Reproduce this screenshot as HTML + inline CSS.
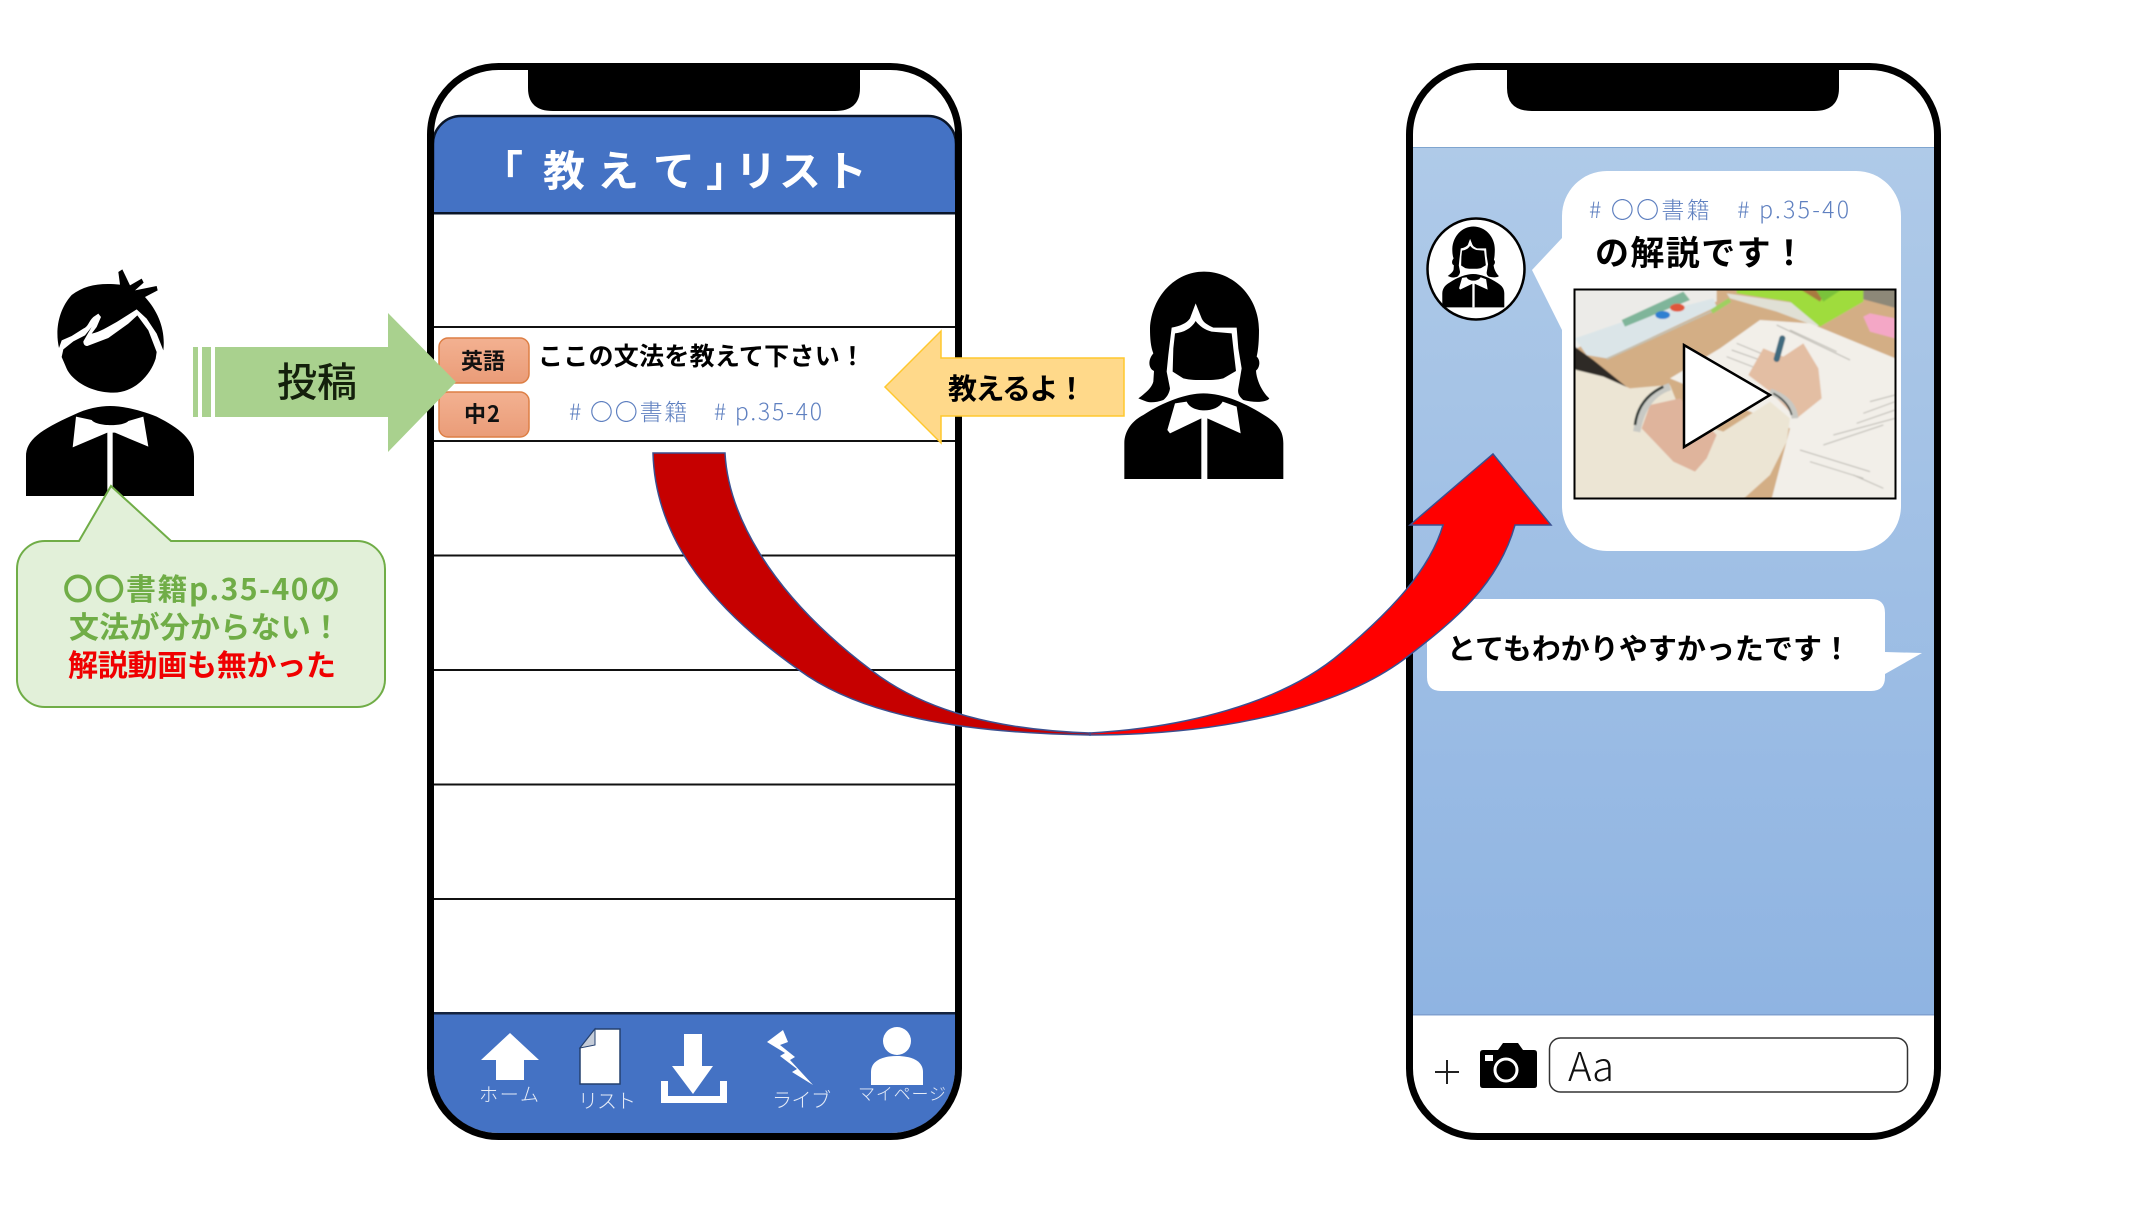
<!DOCTYPE html>
<html lang="ja"><head><meta charset="utf-8"><title>教えてリスト</title>
<style>html,body{margin:0;padding:0;background:#fff}svg{display:block}
text{font-family:"Liberation Sans","Noto Sans CJK JP",sans-serif}
.j{font-family:"Noto Sans CJK JP","Liberation Sans",sans-serif}
</style></head><body>
<svg xmlns="http://www.w3.org/2000/svg" width="2129" height="1207" viewBox="0 0 2129 1207">
<defs>
<linearGradient id="sky" x1="0" y1="0" x2="0" y2="1"><stop offset="0" stop-color="#afcae8"/><stop offset="1" stop-color="#8fb4e2"/></linearGradient>
<linearGradient id="tag" x1="0" y1="0" x2="0" y2="1"><stop offset="0" stop-color="#f3b191"/><stop offset="1" stop-color="#ea9c78"/></linearGradient>
<clipPath id="p1"><rect x="434" y="70" width="521" height="1063" rx="64"/></clipPath>
<clipPath id="p2"><rect x="1413" y="70" width="521" height="1063" rx="64"/></clipPath>
<clipPath id="ph"><rect x="12" y="12" width="966" height="628"/></clipPath>
<filter id="bl" x="-5%" y="-5%" width="110%" height="110%"><feGaussianBlur stdDeviation="2.2"/></filter>
<g id="woman">
<path d="M972 35C1060 35 1137 110 1137 210C1137 240 1135 270 1130 290C1142 300 1140 322 1128 332C1130 365 1150 400 1168 415C1160 428 1120 428 1090 420C1078 410 1072 400 1075 385L1085 325L1075 265L1070 203L1000 203C985 195 972 190 965 175L947 130L930 175C920 190 900 198 875 203L865 285L860 335L870 385C868 400 860 412 850 420C830 428 810 428 800 425L775 415C795 400 815 385 820 365L822 333C805 325 803 300 820 280C812 260 810 235 810 205C815 110 885 35 972 35Z"/>
<path d="M947 183C935 205 910 218 885 220L880 265L878 335L910 355C930 360 950 360 970 360C990 360 1010 360 1030 355L1068 333L1060 265L1055 220L995 215C975 210 958 198 947 183Z"/>
<path d="M733 657L733 550C733 510 760 480 790 465C850 425 920 400 970 400C1030 400 1100 430 1160 470C1190 490 1210 510 1210 550L1210 657Z"/>
<path fill="#fff" d="M885 430L920 425C935 460 1010 460 1028 425L1070 440L1082 520L982 475L982 657L964 657L964 475L870 520L862 510Z"/>
</g>
</defs>

<rect width="2129" height="1207" fill="#fff"/>

<!-- man -->
<g transform="translate(0,240) scale(.33333)">
<path d="M177 324C165 270 175 210 215 165C255 135 300 128 360 134L355 96L367 88L390 136L425 116L431 128L405 151L470 138L473 151L435 171C475 215 497 270 490 331L470 281L440 236L410 208L350 246C320 262 300 276 275 281L290 261L303 231L295 221L280 231C265 245 265 260 250 266L215 288L185 301Z"/>
<path d="M185 351L190 328L220 304L255 286L275 261L250 304C250 316 258 318 262 318L325 294L385 251L412 226L445 271L470 336L467 356C450 410 400 458 340 458C270 458 215 420 200 386Z"/>
<path d="M78 768L78 650C78 600 120 570 220 525C260 505 300 498 330 498C370 498 420 510 470 530C540 565 582 600 582 650L582 768Z"/>
<path fill="#fff" d="M228 530L275 540C290 560 370 560 385 543L430 530L445 620L345 578L338 578L338 768L322 768L322 578L218 622Z"/>
</g>

<!-- left phone -->
<g clip-path="url(#p1)">
<rect x="434" y="70" width="521" height="1063" fill="#fff"/>
<rect x="433" y="116" width="523" height="120" rx="28" fill="#4472c4" stroke="#0a1528" stroke-width="2.5"/>
<rect x="434" y="180" width="521" height="32" fill="#4472c4"/>
<rect x="434" y="212" width="521" height="2.500" fill="#0a1528"/>
<rect x="434" y="214.500" width="521" height="40" fill="#fff"/>
<g fill="#111"><rect x="434" y="326" width="521" height="2"/><rect x="434" y="440" width="521" height="2"/><rect x="434" y="554.500" width="521" height="2"/><rect x="434" y="669" width="521" height="2"/><rect x="434" y="783.500" width="521" height="2"/><rect x="434" y="898" width="521" height="2"/></g>
<rect x="434" y="1013" width="521" height="126" fill="#4472c4"/>
<rect x="434" y="1012" width="521" height="2.500" fill="#14233f"/>
</g>
<rect x="430.500" y="66.500" width="528" height="1070" rx="68" fill="none" stroke="#000" stroke-width="7"/>
<path d="M528 64H860V88Q860 111 835 111H553Q528 111 528 88Z"/>
<text class="j" font-size="42" font-weight="700" fill="#fff" x="481 543 597 653 706 735 779 825" y="186">「教えて」リスト</text>

<!-- row content -->
<rect x="439" y="338" width="90" height="45" rx="9" fill="url(#tag)" stroke="#dd7f45" stroke-width="1.500"/>
<rect x="439" y="392" width="90" height="45" rx="9" fill="url(#tag)" stroke="#dd7f45" stroke-width="1.500"/>
<text class="j" x="461" y="369" font-size="22" font-weight="700" fill="#111" textLength="44">英語</text>
<text class="j" x="464" y="422" font-size="22" font-weight="700" fill="#111" textLength="36">中2</text>
<text class="j" x="538" y="365" font-size="25" font-weight="700" fill="#000" textLength="327">ここの文法を教えて下さい！</text>
<text class="j" x="569" y="420" font-size="23" fill="#5f80c0" font-weight="300" textLength="253">#&#160;〇〇書籍　#&#160;p.35-40</text>

<!-- footer icons -->
<g fill="#fff" transform="translate(-1,-4)">
<path d="M482 1064L511 1037L540 1064L525 1064L525 1084L497 1084L497 1064Z"/>
<path d="M596 1033L621 1033L621 1088L581 1088L581 1052Z" stroke="#24406f" stroke-width="1.500"/>
<path d="M596 1033L581 1052L596 1049Z" fill="#c5ccd8" stroke="#24406f" stroke-width="1"/>
<path d="M685 1038H703V1070H714L694 1098L673 1070H685Z"/>
<path d="M662 1085H669V1100H721V1085H728V1107H662Z"/>
<path d="M784 1034L768 1046L786 1057L781 1060L798 1073L793 1076L814 1089L791 1064L796 1061L781 1049L789 1046Z"/>
<circle cx="898" cy="1045" r="14"/>
<path d="M872 1089V1076C872 1064 885 1060 898 1060C911 1060 924 1064 924 1076V1089Z"/>
</g>
<g fill="#e6ecf7" font-weight="300" class="j">
<text class="j" x="479" y="1101" font-size="19" textLength="60">ホーム</text>
<text class="j" x="578" y="1108" font-size="20" textLength="58">リスト</text>
<text class="j" x="772" y="1107" font-size="20" textLength="59">ライブ</text>
<text class="j" x="858" y="1100" font-size="17" textLength="88">マイページ</text>
</g>

<!-- right phone -->
<g clip-path="url(#p2)">
<rect x="1413" y="70" width="521" height="1063" fill="#fff"/>
<rect x="1413" y="147" width="521" height="867" fill="url(#sky)"/>
<rect x="1413" y="147" width="521" height="1" fill="#7fa5cf"/>
<rect x="1413" y="1014" width="521" height="1.500" fill="#7fa0d0"/>
</g>
<rect x="1409.500" y="66.500" width="528" height="1070" rx="68" fill="none" stroke="#000" stroke-width="7"/>
<path d="M1507 64H1839V88Q1839 111 1814 111H1532Q1507 111 1507 88Z"/>

<path fill="#fff" d="M1607 171H1856A45 45 0 0 1 1901 216V506A45 45 0 0 1 1856 551H1607A45 45 0 0 1 1562 506V330L1532 270L1562 238V216A45 45 0 0 1 1607 171Z"/>
<ellipse cx="1476" cy="269" rx="48.500" ry="50.500" fill="#fff" stroke="#000" stroke-width="2.500"/>
<use href="#woman" transform="translate(1347,222) scale(.13)"/>
<text class="j" x="1589" y="218" font-size="23" fill="#5f80c0" font-weight="300" textLength="260">#&#160;〇〇書籍　#&#160;p.35-40</text>
<text class="j" x="1595" y="265" font-size="34" font-weight="700" fill="#000" textLength="211">の解説です！</text>

<!-- photo -->
<g transform="translate(1570,285) scale(.33333)">
<g clip-path="url(#ph)"><g filter="url(#bl)">
<rect x="0" y="0" width="1005" height="660" fill="#d3ae85"/>
<polygon fill="#8d8878" points="860,0 1000,0 1000,75 870,40"/>
<polygon fill="#ecebe8" points="0,0 440,0 440,50 160,120 20,190 0,180"/>
<polygon fill="#dbe5e8" points="15,160 160,110 430,40 440,65 110,220 50,210"/>
<path d="M110 222L440 72" stroke="#c6bfae" stroke-width="6" fill="none"/>
<polygon fill="#7fb59a" points="155,105 340,20 360,45 165,125"/>
<ellipse cx="278" cy="90" rx="22" ry="12" fill="#2f7fd1"/><ellipse cx="322" cy="68" rx="22" ry="12" fill="#e0563a"/>
<path d="M425 80L480 45" stroke="#9ed060" stroke-width="14" fill="none"/>
<polygon fill="#e0e0d5" points="470,25 680,55 750,120 740,125 620,80 480,40"/>
<polygon fill="#9fdc3c" points="500,0 880,0 880,50 750,125 720,100 660,50 500,25"/>
<polygon fill="#a87a40" points="670,0 780,0 750,50"/>
<polygon fill="#7ac23a" points="735,10 820,10 760,50"/>
<polygon fill="#f4a7c6" points="880,95 900,85 975,100 975,160 900,140"/>
<polygon fill="#f2efe9" points="570,105 720,115 1000,230 1000,660 600,660 660,430 300,280 450,190"/>
<g stroke="#a9a79f" stroke-width="3" fill="none" opacity=".75"><path d="M470 215L560 250M485 195L570 225M500 175L585 210M620 120L840 225M660 135L800 200M900 350L975 330M880 385L975 350M860 415L975 375M790 450L975 400M760 480L940 420M690 495L900 560M720 530L880 580M850 570L940 610"/></g>
<polygon fill="#2f2a28" points="0,175 70,225 175,310 120,285 0,250"/>
<polygon fill="#ece5d4" points="0,250 100,275 180,310 300,300 340,400 460,440 600,350 660,400 650,470 600,570 500,660 0,660"/>
<polygon fill="#dfb49c" points="215,430 240,360 330,340 440,450 410,520 375,560 310,530"/>
<polygon fill="#e3bea3" points="535,270 580,190 640,215 700,175 745,250 755,340 680,400 600,320"/>
<path d="M300 305Q220 330 200 440" stroke="#c8c9c4" stroke-width="22" fill="none"/>
<path d="M280 305Q205 340 195 420" stroke="#2b3532" stroke-width="8" fill="none"/>
<path d="M600 320Q670 345 675 400" stroke="#c8c8c2" stroke-width="20" fill="none"/>
<path d="M610 325Q655 350 665 390" stroke="#2b3532" stroke-width="5" fill="none"/>
<path d="M637 160L620 222" stroke="#3f6a7e" stroke-width="18" fill="none" stroke-linecap="round"/>
</g></g></g>
<rect x="1574.500" y="289.500" width="321" height="209" fill="none" stroke="#000" stroke-width="2"/>
<polygon points="1684,345 1684,447 1770,395" fill="#fff" stroke="#000" stroke-width="2.500"/>

<!-- bubble 2 -->
<path fill="#fff" d="M1441 599H1871Q1885 599 1885 613V652L1922 653L1885 674V677Q1885 691 1871 691H1441Q1427 691 1427 677V613Q1427 599 1441 599Z"/>
<text class="j" x="1447" y="659" font-size="29" font-weight="700" fill="#000" textLength="404">とてもわかりやすかったです！</text>

<!-- bottom bar right -->
<path d="M1447 1060V1084M1435 1072H1459" stroke="#222" stroke-width="2" fill="none"/>
<path d="M1483 1050H1498L1503 1043H1518L1523 1050H1534Q1537 1050 1537 1053V1085Q1537 1088 1534 1088H1483Q1480 1088 1480 1085V1053Q1480 1050 1483 1050Z"/>
<rect x="1485" y="1055" width="8" height="6" fill="#fff"/>
<circle cx="1506" cy="1070" r="11" fill="none" stroke="#fff" stroke-width="3"/>
<rect x="1549.500" y="1038" width="358" height="54" rx="11" fill="#fff" stroke="#333" stroke-width="1.500"/>
<text class="j" x="1568" y="1081" font-size="40" fill="#111" font-weight="300" textLength="46">Aa</text>

<!-- green arrow + bubble -->
<path fill="#a9d18e" d="M193 347H198V417H193ZM202 347H211V417H202ZM215 347H388V313L456 382L388 452V417H215Z"/>
<text class="j" x="277" y="396" font-size="40" font-weight="500" fill="#14200c" textLength="80">投稿</text>
<path fill="#e2f0d9" stroke="#70ad47" stroke-width="2" d="M46 541H79L111 486L171 541H356A28 28 0 0 1 385 569V678A28 28 0 0 1 356 707H46A28 28 0 0 1 17 678V569A28 28 0 0 1 46 541Z"/>
<g class="j" font-size="30" font-weight="700">
<text class="j" x="63" y="600" fill="#70ad47" textLength="277">〇〇書籍p.35-40の</text>
<text class="j" x="69" y="638" fill="#70ad47" textLength="272">文法が分からない！</text>
<text class="j" x="68" y="676" fill="#f00000" textLength="268">解説動画も無かった</text>
</g>

<!-- woman + yellow arrow -->
<g transform="translate(880,260) scale(.33333)"><use href="#woman"/></g>
<path fill="#ffd98a" stroke="#ffc82e" stroke-width="1.500" d="M1124 358H941V331L885 387L941 443V416H1124Z"/>
<text class="j" x="948" y="399" font-size="29" font-weight="700" fill="#000" textLength="138">教えるよ！</text>

<!-- red curved arrow -->
<path fill="#ff0000" stroke="#3b4f8f" stroke-width="1.500" d="M1090 733C1180 728 1280 705 1341 653C1390 612 1430 570 1443 525L1410 525L1493 454L1551 525L1515 525C1498 585 1455 620 1407 657C1345 705 1230 735 1090 735Z"/>
<path fill="#c60000" stroke="#3b4f8f" stroke-width="1.500" d="M653 453L725 453C728 510 765 590 871 670C925 712 1000 730 1090 733L1090 735C960 733 860 715 799 670C700 600 655 530 653 453Z"/>
</svg>
</body></html>
